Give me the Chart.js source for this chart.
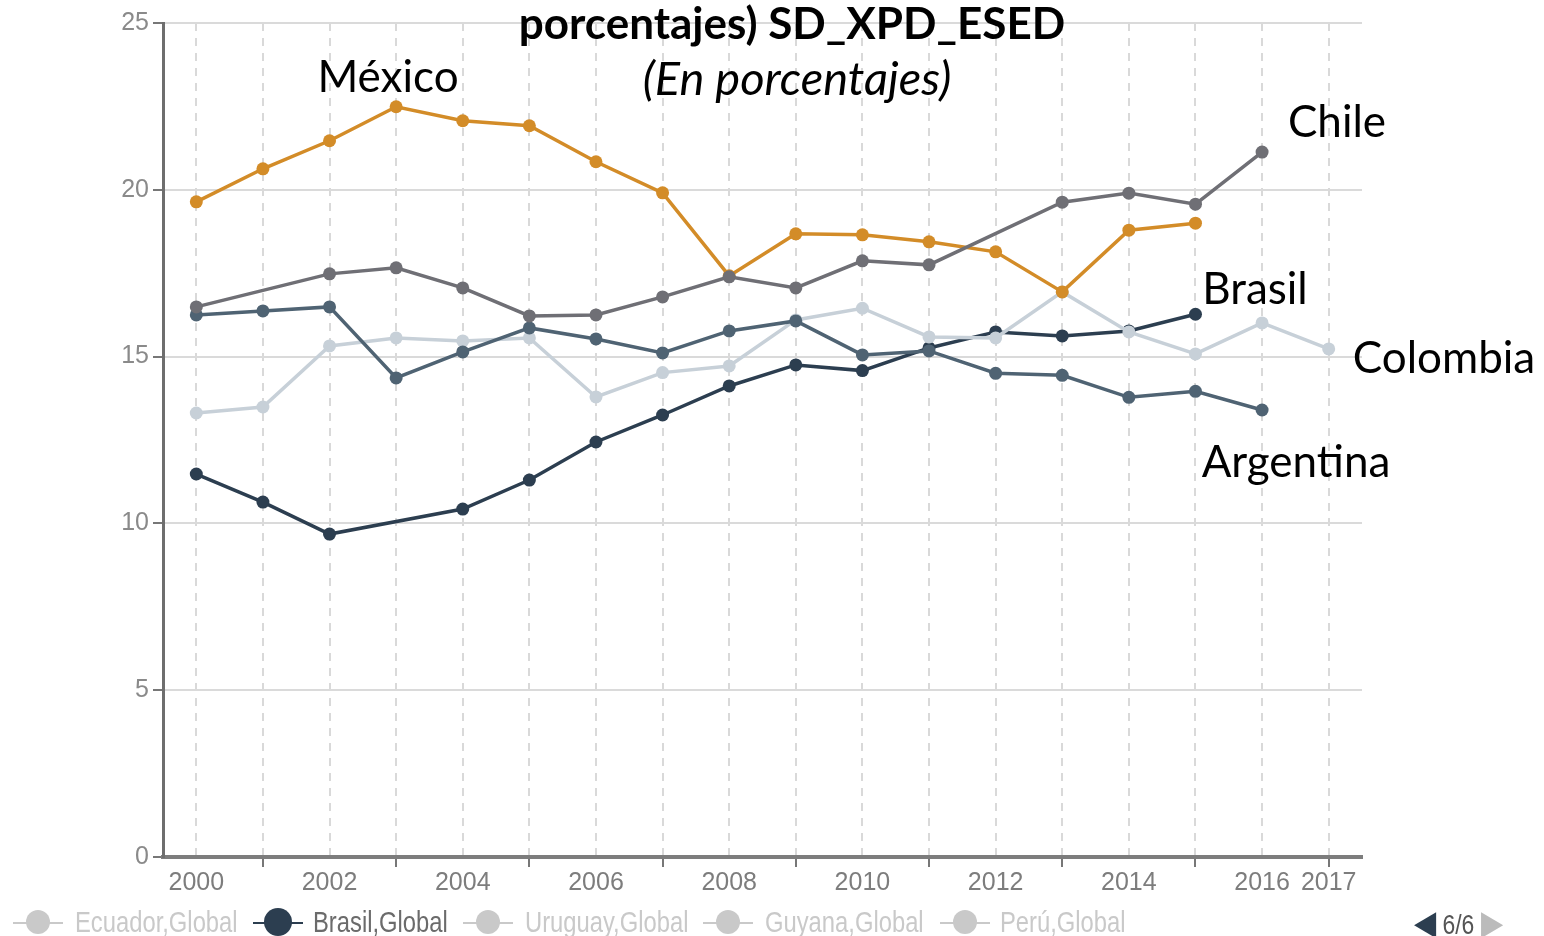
<!DOCTYPE html>
<html>
<head>
<meta charset="utf-8">
<script src="https://cdn.jsdelivr.net/npm/chart.js@4.4.1/dist/chart.umd.min.js"></script>
<style>
  html, body { margin: 0; padding: 0; background: #fff; }
  #wrap { position: relative; width: 1544px; height: 936px; overflow: hidden; }
  #chart { position: absolute; left: 0; top: 0; }
  .note { position: absolute; transform: translate(-50%, -50%); font-family: Lato, "Open Sans", sans-serif;
          font-size: 44px; line-height: 1; color: #000; white-space: nowrap; }
  .title { font-weight: bold; }
  .sub { font-style: italic; font-size: 47px; }
  .leg { position: absolute; top: 922px; transform: translateY(-50%) scaleX(0.82); transform-origin: left center;
         font-family: "Liberation Sans", sans-serif; font-size: 29px; line-height: 1; white-space: nowrap; color: #c9c9c9; }
  .mk { position: absolute; top: 922px; width: 50px; height: 2px; background: #c9c9c9; }
  .mk span { position: absolute; left: 13px; top: -12px; width: 24px; height: 24px; border-radius: 50%; background: #c9c9c9; }
  .pager { position: absolute; top: 922px; transform: translateY(-50%) scaleX(0.85); transform-origin: left center;
           font-family: "Liberation Sans", sans-serif; font-size: 27px; line-height: 1; color: #555; white-space: nowrap; }
  .pager b { font-size: 34px; font-weight: normal; }
</style>
</head>
<body>
<div id="wrap">
  <canvas id="chart" width="1544" height="936"></canvas>

  <div class="note title" style="left:792px; top:22px;">porcentajes) SD_XPD_ESED</div>
  <div class="note sub" style="left:797px; top:77px;">(En porcentajes)</div>
  <div class="note" style="left:388px; top:75px;">México</div>
  <div class="note" style="left:1337px; top:120px;">Chile</div>
  <div class="note" style="left:1255px; top:287px;">Brasil</div>
  <div class="note" style="left:1444px; top:356px;">Colombia</div>
  <div class="note" style="left:1296px; top:460px;">Argentina</div>

  <div class="mk" style="left:13px;"><span></span></div>
  <div class="leg" style="left:75px;">Ecuador,Global</div>
  <div class="mk" style="left:253px; background:#2c3e50;"><span style="background:#2c3e50; width:28px; height:28px; top:-14px; left:11px;"></span></div>
  <div class="leg" style="left:313px; color:#6b6b6b;">Brasil,Global</div>
  <div class="mk" style="left:463px;"><span></span></div>
  <div class="leg" style="left:525px;">Uruguay,Global</div>
  <div class="mk" style="left:703px;"><span></span></div>
  <div class="leg" style="left:765px;">Guyana,Global</div>
  <div class="mk" style="left:940px;"><span></span></div>
  <div class="leg" style="left:1000px;">Perú,Global</div>
  <div class="pager" style="left:1414px;"><b style="color:#2c3e50;">&#9664;</b> 6/6 <b style="color:#bbb;">&#9654;</b></div>
</div>

<script>
// years on the x axis
const years = ["2000", "2001", "2002", "2003", "2004", "2005", "2006", "2007", "2008",
               "2009", "2010", "2011", "2012", "2013", "2014", "2015", "2016", "2017"];

// gasto en educación secundaria (%)
const mexico    = [19.64, 20.63, 21.47, 22.49, 22.07, 21.92, 20.84, 19.91, 17.42, 18.68, 18.65, 18.44, 18.14, 16.94, 18.79, 19.0, null, null];
const chile     = [16.49, null, 17.48, 17.66, 17.06, 16.22, 16.25, 16.79, 17.39, 17.06, 17.87, 17.75, null, 19.63, 19.9, 19.57, 21.13, null];
const argentina = [16.25, 16.37, 16.49, 14.36, 15.14, 15.86, 15.53, 15.11, 15.77, 16.07, 15.05, 15.17, 14.5, 14.44, 13.78, 13.96, 13.4, null];
const colombia  = [13.31, 13.49, 15.32, 15.56, 15.47, 15.56, 13.79, 14.52, 14.72, 16.1, 16.45, 15.59, 15.56, 16.94, 15.74, 15.08, 16.01, 15.23];
const brasil    = [11.48, 10.64, 9.68, null, 10.43, 11.3, 12.44, 13.25, 14.12, 14.75, 14.58, 15.26, 15.74, 15.62, 15.77, 16.27, null, null];

const yTicks = [0, 5, 10, 15, 20, 25];

function series(label, data, color) {
  return {
    label: label,
    data: data,
    borderColor: color,
    backgroundColor: color,
    pointBackgroundColor: color,
    pointBorderColor: color,
    pointBorderWidth: 0,
    pointRadius: 6.5,
    borderWidth: 3.5,
    spanGaps: true,
    tension: 0
  };
}

const tickFont = { family: "'Liberation Sans', sans-serif", size: 25 };

new Chart(document.getElementById("chart"), {
  type: "line",
  data: {
    labels: years,
    datasets: [
      series("Chile", chile, "#6f6f75"),
      series("México", mexico, "#d38c28"),
      series("Argentina", argentina, "#4f6373"),
      series("Colombia", colombia, "#c7d0d8"),
      series("Brasil", brasil, "#2c3e50")
    ]
  },
  options: {
    responsive: false,
    animation: false,
    layout: { padding: { top: 23, right: 182, left: 0, bottom: 0 } },
    plugins: { legend: { display: false }, tooltip: { enabled: false } },
    scales: {
      x: {
        offset: true,
        afterFit: s => { s.height = 79; },
        grid: {
          offset: false,
          color: "#d9d9d9",
          lineWidth: 2,
          tickLength: 10,
          tickWidth: 2,
          tickColor: c => (c.index % 2 === 1 ? "#777" : "rgba(0,0,0,0)")
        },
        border: { color: "#7d7d7d", width: 4, dash: [8, 7] },
        ticks: {
          autoSkip: false,
          maxRotation: 0,
          padding: 1,
          color: "#7d7d7d",
          font: tickFont,
          callback: (v, i) => (i % 2 === 0 || i === years.length - 1 ? years[i] : "")
        }
      },
      y: {
        min: 0,
        max: 25,
        afterFit: s => { s.width = 163; },
        afterBuildTicks: s => { s.ticks = yTicks.map(v => ({ value: v })); },
        grid: { color: "#dadada", lineWidth: 2, tickLength: 10, tickWidth: 2, tickColor: "#777" },
        border: { color: "#6e6e6e", width: 3 },
        ticks: {
          padding: 4,
          color: "#8a8a8a",
          font: tickFont
        }
      }
    }
  }
});
</script>
</body>
</html>
